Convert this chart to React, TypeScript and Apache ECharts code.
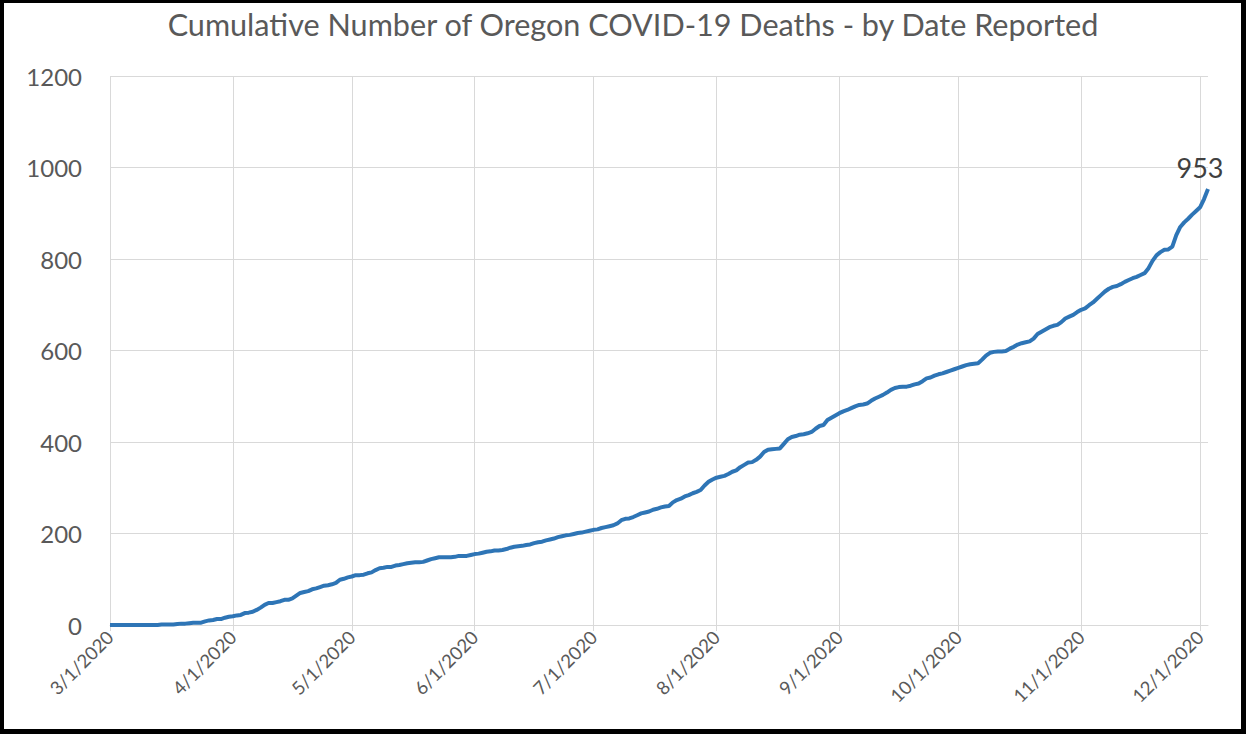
import React, { useEffect, useRef } from "react";
import * as echarts from "echarts";

const title = "Cumulative Number of Oregon COVID-19 Deaths - by Date Reported";
const year = 2020;
const yTicks = { min: 0, max: 1200, interval: 200 };

const march = [0,0,0,0,0,0,0,0,0,0,0,0,0,1,1,1,1,2,3,3,4,5,5,5,8,10,11,13,13,16,18];
const april = [19,21,22,26,27,29,33,38,44,48,48,50,52,55,55,58,64,70,72,74,78,80,83,86,87,89,92,99,101,104];
const may = [106,109,109,110,113,115,120,124,125,127,127,130,131,133,135,136,137,137,138,141,144,146,148,148,148,148,149,151,151,151,153];
const june = [155,156,158,160,161,163,163,164,166,169,171,172,173,175,176,179,181,182,185,187,189,192,194,196,197,199,201,202,204,206];
const july = [208,209,212,214,216,218,222,229,232,233,236,240,244,246,248,252,254,257,259,260,268,273,276,281,284,288,291,295,305,313,318];
const august = [322,324,326,330,335,338,345,350,355,356,361,368,378,383,384,385,386,396,406,411,413,416,417,419,422,429,435,437,448,453,458];
const september = [463,467,470,474,478,481,482,484,490,495,499,503,508,514,518,520,521,521,523,526,528,533,539,541,545,548,550,553,556,559];
const october = [562,565,568,570,571,572,580,589,595,597,598,598,599,604,608,613,616,618,620,626,636,641,646,651,654,656,662,670,674,678,684];
const november = [689,692,699,705,713,721,729,735,739,741,745,750,754,758,761,765,769,780,796,808,815,820,821,827,852,870,880,888,897,905];
const december = [913,931,953];

const months: [number, number[]][] = [
  [3, march], [4, april], [5, may], [6, june], [7, july], [8, august],
  [9, september], [10, october], [11, november], [12, december],
];

const categories: string[] = [];
const values: number[] = [];
months.forEach(([m, arr]) => {
  arr.forEach((v, i) => {
    categories.push(`${m}/${i + 1}/${year}`);
    values.push(v);
  });
});

const isMonthStart = (_: number, v: string) => v.split("/")[1] === "1";

export default function App() {
  const ref = useRef<HTMLDivElement>(null);
  useEffect(() => {
    if (!ref.current) return;
    const chart = echarts.init(ref.current, null, { renderer: "svg" });
    const font = "Lato, 'Open Sans', sans-serif";
    chart.setOption({
      animation: false,
      backgroundColor: "#ffffff",
      title: {
        text: title,
        left: 628,
        top: 4,
        textAlign: "center",
        textStyle: { fontFamily: font, fontSize: 30.6, fontWeight: "normal", color: "#595959" },
      },
      grid: { left: 110, right: 38, top: 76, bottom: 109, containLabel: false },
      xAxis: {
        type: "category",
        data: categories,
        boundaryGap: false,
        axisLine: { lineStyle: { color: "#d9d9d9", width: 1 } },
        axisTick: { show: true, interval: isMonthStart, length: 6, lineStyle: { color: "#d9d9d9" } },
        splitLine: { show: true, interval: isMonthStart, lineStyle: { color: "#d9d9d9", width: 1 } },
        axisLabel: {
          interval: isMonthStart,
          rotate: 45,
          margin: 9,
          hideOverlap: false,
          fontFamily: font,
          fontSize: 18.5,
          color: "#595959",
        },
      },
      yAxis: {
        type: "value",
        min: yTicks.min,
        max: yTicks.max,
        interval: yTicks.interval,
        axisLine: { show: false },
        axisTick: { show: false },
        splitLine: { lineStyle: { color: "#d9d9d9", width: 1 } },
        axisLabel: {
          fontFamily: font,
          fontSize: 24,
          color: "#595959",
          margin: 28,
          formatter: (v: number) => String(v),
        },
      },
      series: [
        {
          type: "line",
          data: values,
          showSymbol: false,
          symbol: "none",
          lineStyle: { color: "#2e75b6", width: 4 },
          itemStyle: { color: "#2e75b6" },
          endLabel: {
            show: true,
            formatter: (p: any) => String(p.value),
            distance: 0,
            align: "center",
            verticalAlign: "bottom",
            offset: [-8, -8],
            fontFamily: font,
            fontSize: 27,
            color: "#404040",
          },
        },
      ],
      graphic: [
        { type: "rect", shape: { x: 0, y: 0, width: 4, height: 734 }, style: { fill: "#000" } },
        { type: "rect", shape: { x: 0, y: 0, width: 1246, height: 3 }, style: { fill: "#000" } },
        { type: "rect", shape: { x: 1241, y: 0, width: 5, height: 734 }, style: { fill: "#000" } },
        { type: "rect", shape: { x: 0, y: 729, width: 1246, height: 5 }, style: { fill: "#000" } },
      ],
    });
    return () => chart.dispose();
  }, []);
  return (
    <div
      ref={ref}
      style={{ position: "fixed", left: 0, top: 0, width: 1246, height: 734 }}
    />
  );
}
